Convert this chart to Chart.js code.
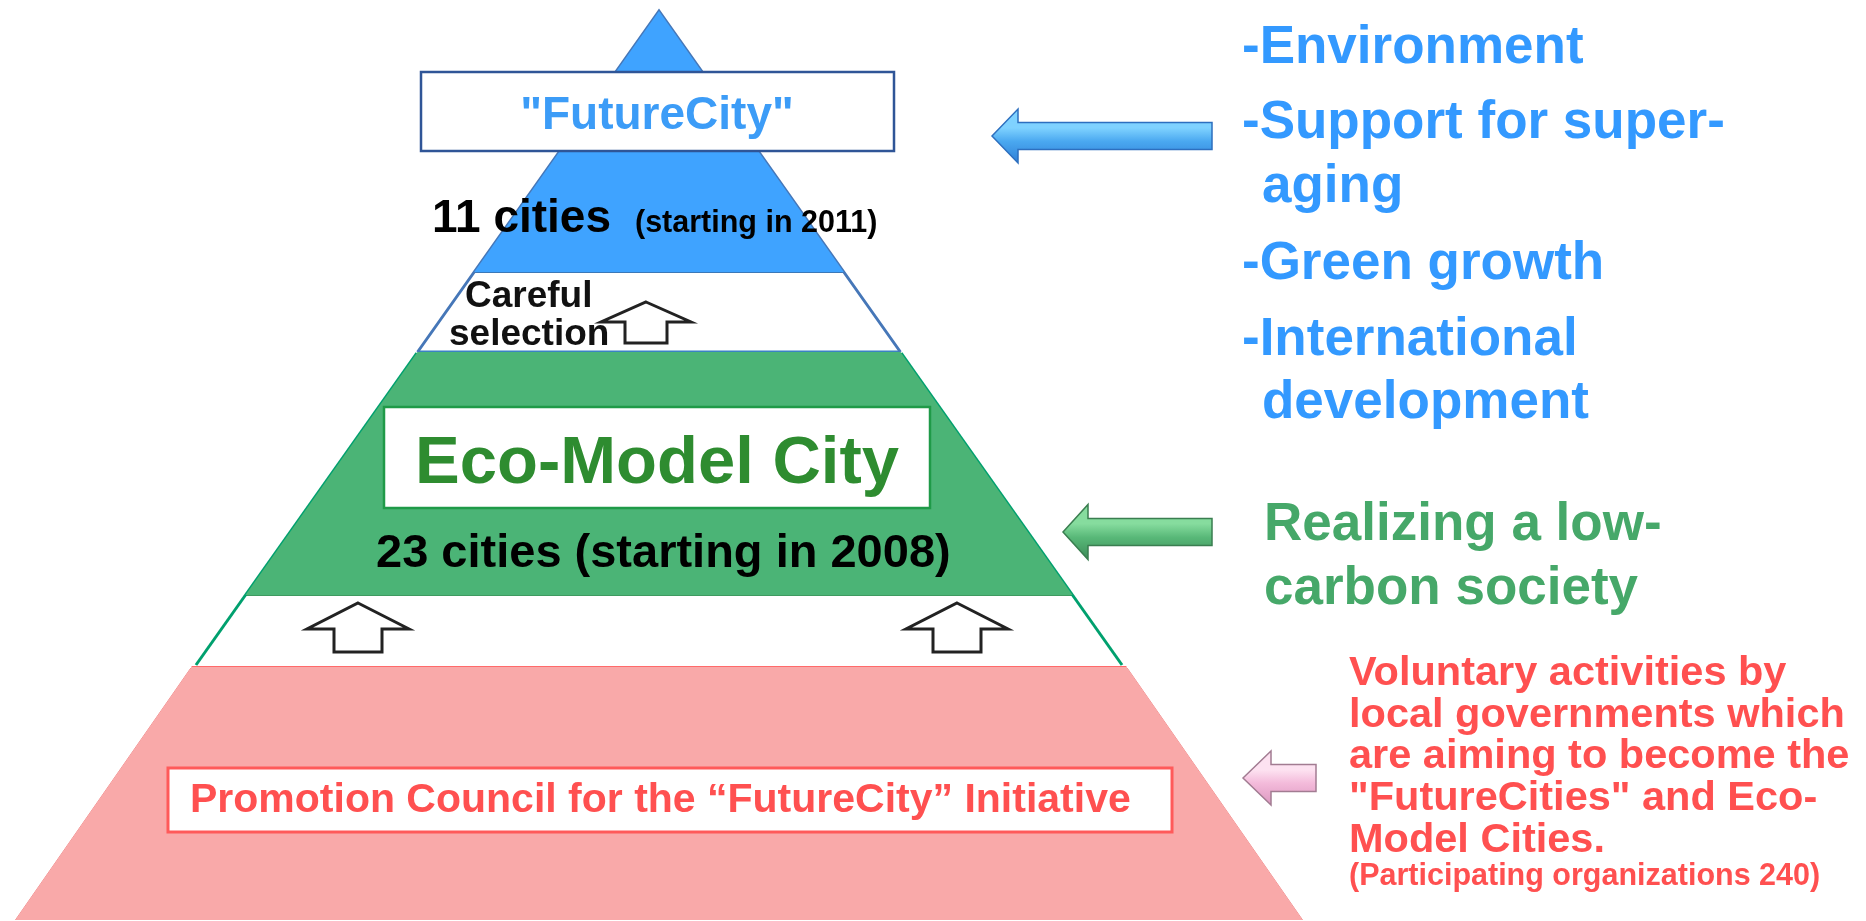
<!DOCTYPE html>
<html><head><meta charset="utf-8">
<script src="https://cdn.jsdelivr.net/npm/chart.js@4.4.0/dist/chart.umd.min.js"></script>
<style>html,body{margin:0;padding:0;background:#fff;overflow:hidden}#wrap{width:1866px;height:921px;position:relative}</style>
</head><body><div id="wrap"><canvas id="c"></canvas></div>
<script>
// ---------------- data ----------------
const tierNames = ['"FutureCity"', 'Eco-Model City', 'Promotion Council for the \u201cFutureCity\u201d Initiative'];
const tierCities = [11, 23];
const tierStartYears = [2011, 2008];
const participatingOrganizations = 240;
const selectionLabel = ['Careful', 'selection'];
// pyramid bands, top to bottom, on the diagram's vertical axis
const bandNames = ['FutureCity', 'Careful selection', 'Eco-Model City', 'Voluntary activities', 'Promotion Council'];
const bandTops = [11, 272, 352, 595, 667];
const bandBottoms = [272, 352, 595, 667, 920];
const blueGoals = ['-Environment', '-Support for super-', 'aging', '-Green growth', '-International', 'development'];
const greenGoals = ['Realizing a low-', 'carbon society'];
const redNotes = ['Voluntary activities by', 'local governments which', 'are aiming to become the', '"FutureCities" and Eco-', 'Model Cities.'];

// ---------------- layout / style ----------------
const W = 1866, H = 921;
const APEX_X = 659, APEX_Y = 11, SLOPE = 0.708;
const xl = y => APEX_X - SLOPE * (y - APEX_Y);
const xr = y => APEX_X + SLOPE * (y - APEX_Y);
const bandFill = ['#3fa3ff', 'rgba(255,255,255,0)', '#4bb476', 'rgba(255,255,255,0)', '#f9a9a9'];
const FONT = '"Liberation Sans", Arial, sans-serif';

function bandPolygon(i) {
  const t = bandTops[i], b = bandBottoms[i];
  const w = i === 4 ? 3 : 0;
  return [{x: xl(t) - w, y: t}, {x: xr(t) + w, y: t}, {x: xr(b), y: b}, {x: xl(b), y: b}, {x: xl(t) - w, y: t}];
}
function seg(pts, color, width) {
  return {data: pts, showLine: true, borderColor: color, borderWidth: width, pointRadius: 0, fill: false, tension: 0, backgroundColor: 'transparent'};
}

const datasets = [];
bandNames.forEach((n, i) => {
  datasets.push({label: n, data: bandPolygon(i), showLine: true, fill: 'shape', backgroundColor: bandFill[i],
    borderWidth: 0, borderColor: 'transparent', pointRadius: 0, tension: 0});
});
// outlines
datasets.push(seg([{x: xl(352), y: 352}, {x: APEX_X, y: APEX_Y}, {x: xr(352), y: 352}], '#4677b8', 3));
datasets.push(seg([{x: xl(272), y: 272}, {x: xr(272), y: 272}], '#3b78b8', 2));
datasets.push(seg([{x: xl(352), y: 352}, {x: xr(352), y: 352}], '#3a82c4', 3));
datasets.push(seg([{x: xl(353), y: 353}, {x: xl(665), y: 665}], '#00a06e', 3));
datasets.push(seg([{x: xr(353), y: 353}, {x: xr(665), y: 665}], '#00a06e', 3));
datasets.push(seg([{x: xl(595), y: 595}, {x: xr(595), y: 595}], '#3f9a60', 2));
datasets.push(seg([{x: xl(667) - 3, y: 667}, {x: xr(667) + 3, y: 667}], '#ff6a6a', 2));
datasets.push(seg([{x: xl(668) - 3, y: 668}, {x: xl(920), y: 920}], '#f08a8a', 1));
datasets.push(seg([{x: xr(668) + 3, y: 668}, {x: xr(920), y: 920}], '#f08a8a', 1));

const decor = {
  id: 'decor',
  afterDatasetsDraw(chart) {
    const ctx = chart.ctx, sx = chart.scales.x, sy = chart.scales.y;
    const px = v => sx.getPixelForValue(v), py = v => sy.getPixelForValue(v);
    function box(x1, y1, x2, y2, stroke, lw) {
      ctx.save(); ctx.fillStyle = '#fff'; ctx.strokeStyle = stroke; ctx.lineWidth = lw;
      ctx.fillRect(px(x1), py(y1), px(x2) - px(x1), py(y2) - py(y1));
      ctx.strokeRect(px(x1), py(y1), px(x2) - px(x1), py(y2) - py(y1));
      ctx.restore();
    }
    function text(s, x, y, size, color, align) {
      ctx.save(); ctx.font = 'bold ' + size + 'px ' + FONT; ctx.fillStyle = color;
      ctx.textAlign = align || 'left'; ctx.textBaseline = 'alphabetic';
      ctx.fillText(s, px(x), py(y)); ctx.restore();
    }
    function upArrow(cx, tip, hh, hs, sh, bot) {
      ctx.save(); ctx.beginPath();
      ctx.moveTo(px(cx), py(tip)); ctx.lineTo(px(cx + hh), py(sh)); ctx.lineTo(px(cx + hs), py(sh));
      ctx.lineTo(px(cx + hs), py(bot)); ctx.lineTo(px(cx - hs), py(bot)); ctx.lineTo(px(cx - hs), py(sh));
      ctx.lineTo(px(cx - hh), py(sh)); ctx.closePath();
      ctx.fillStyle = '#fff'; ctx.fill(); ctx.strokeStyle = '#222'; ctx.lineWidth = 3; ctx.lineJoin = 'miter'; ctx.stroke();
      ctx.restore();
    }
    function leftArrow(tip, cy, back, hh, hs, right, c1, c2, c3, stroke) {
      ctx.save(); ctx.beginPath();
      ctx.moveTo(px(tip), py(cy)); ctx.lineTo(px(back), py(cy - hh)); ctx.lineTo(px(back), py(cy - hs));
      ctx.lineTo(px(right), py(cy - hs)); ctx.lineTo(px(right), py(cy + hs)); ctx.lineTo(px(back), py(cy + hs));
      ctx.lineTo(px(back), py(cy + hh)); ctx.closePath();
      const g = ctx.createLinearGradient(0, py(cy - hh), 0, py(cy + hh));
      g.addColorStop(0, c1); g.addColorStop(0.35, c1); g.addColorStop(0.6, c2); g.addColorStop(1, c3);
      ctx.fillStyle = g; ctx.fill(); ctx.strokeStyle = stroke; ctx.lineWidth = 1.5; ctx.stroke();
      ctx.restore();
    }
    // boxes
    box(421, 72, 894, 151, '#2f5597', 2.5);
    box(384, 407, 930, 508, '#1f9a48', 2.5);
    box(168, 768, 1172, 832, '#ff5a5a', 3);
    // tier labels
    text(tierNames[0], 657, 129, 46, '#3c9cf7', 'center');
    text(tierCities[0] + ' cities', 432, 232, 46, '#000');
    text('(starting in ' + tierStartYears[0] + ')', 635, 232, 30.5, '#000');
    text(selectionLabel[0], 465, 307, 37, '#111');
    text(selectionLabel[1], 449, 345, 37, '#111');
    text(tierNames[1], 657, 483, 67, '#2e8c30', 'center');
    text(tierCities[1] + ' cities (starting in ' + tierStartYears[1] + ')', 376, 567, 47, '#000');
    text(tierNames[2], 190, 812, 41, '#ff5050');
    // up arrows
    upArrow(646, 302, 45, 21, 322, 343);
    upArrow(358, 603, 51, 24, 629, 652);
    upArrow(957, 603, 51, 24, 629, 652);
    // side arrows
    leftArrow(992, 136, 1018, 27, 13.5, 1212, '#7fd2ff', '#4aa8f0', '#2f7fd6', '#2d6fbf');
    leftArrow(1063, 532, 1088, 27.5, 13.5, 1212, '#86dc9e', '#58b878', '#3c8c58', '#3a7e50');
    leftArrow(1243, 778, 1271, 27, 13.5, 1316, '#fde2f1', '#f3bada', '#dc98c0', '#a27c92');
    // right column texts
    const blueY = [63, 138, 202, 279, 355, 418];
    blueGoals.forEach((s, i) => text(s, s.startsWith('-') ? 1242 : 1262, blueY[i], 53, '#3399ff'));
    const greenY = [540, 604];
    greenGoals.forEach((s, i) => text(s, 1264, greenY[i], 53, '#46a869'));
    const redY = [685, 727, 768, 810, 852];
    redNotes.forEach((s, i) => text(s, 1349, redY[i], 41.5, '#ff5050'));
    text('(Participating organizations ' + participatingOrganizations + ')', 1349, 885, 30.5, '#ff5050');
  }
};

new Chart(document.getElementById('c'), {
  type: 'scatter',
  data: {datasets},
  options: {
    responsive: true, maintainAspectRatio: false, animation: false, devicePixelRatio: 1, events: [],
    layout: {padding: 0},
    plugins: {legend: {display: false}, tooltip: {enabled: false}},
    scales: {
      x: {type: 'linear', min: 0, max: W, display: false},
      y: {type: 'linear', min: 0, max: H, reverse: true, display: false}
    }
  },
  plugins: [decor]
});
</script></body></html>
